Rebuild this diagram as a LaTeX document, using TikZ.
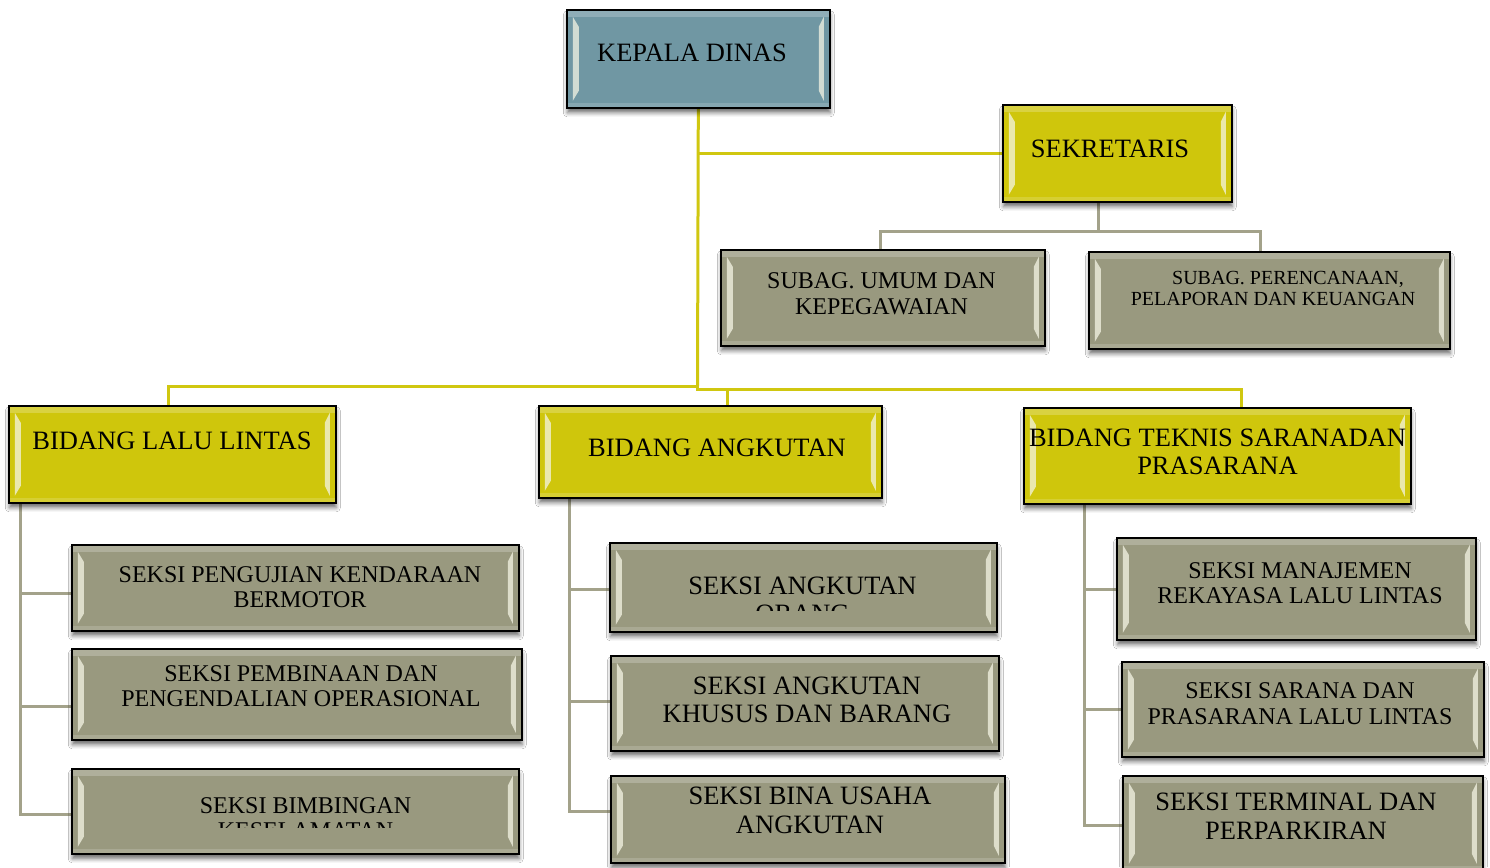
\documentclass[tikz,border=0pt]{standalone}
\usepackage{fontspec}
\setmainfont{Liberation Serif}
\usetikzlibrary{shadows.blur}
\pgfdeclarelayer{bg}
\pgfsetlayers{bg,main}
\definecolor{kblue}{HTML}{7097A3}
\definecolor{kyel}{HTML}{CFC60C}
\definecolor{kgry}{HTML}{99997F}
\definecolor{lyel}{HTML}{D0C710}
\definecolor{lgry}{HTML}{A3A28A}
\definecolor{bevl}{HTML}{F4F4E4}
\tikzset{
 bevel/.style={path picture={
   \path (path picture bounding box.north west) coordinate (ppnw)
         (path picture bounding box.north east) coordinate (ppne)
         (path picture bounding box.south west) coordinate (ppsw)
         (path picture bounding box.south east) coordinate (ppse);
   \fill[white,opacity=.22] (ppnw) rectangle ([yshift=-7pt]ppne);
   \fill[white,opacity=.16] (ppsw) rectangle ([yshift=5pt]ppse);
   \fill[bevl,opacity=.75] ([shift={(6pt,-7pt)}]ppnw) -- ([shift={(12pt,-17pt)}]ppnw)
        -- ([shift={(12pt,17pt)}]ppsw) -- ([shift={(6pt,7pt)}]ppsw) -- cycle;
   \fill[bevl,opacity=.75] ([shift={(-6pt,-7pt)}]ppne) -- ([shift={(-11pt,-17pt)}]ppne)
        -- ([shift={(-11pt,17pt)}]ppse) -- ([shift={(-6pt,7pt)}]ppse) -- cycle;
 }},
 box/.style={draw=black, line width=1.6pt, rectangle, anchor=north west, inner sep=0pt, bevel,
   blur shadow={shadow xshift=0.5pt, shadow yshift=-5pt, shadow blur radius=4pt, shadow opacity=55}},
 bluebox/.style={box, fill=kblue},
 yelbox/.style={box, fill=kyel},
 grybox/.style={box, fill=kgry},
 lbl/.style={align=center, inner sep=0pt, text=black},
 big/.style={lbl, font=\fontsize{26.5}{28}\selectfont},
 bigw/.style={lbl, font=\fontsize{26.5}{29}\selectfont},
 mid/.style={lbl, font=\fontsize{24}{25}\selectfont},
 midw/.style={lbl, font=\fontsize{24}{26}\selectfont},
 small/.style={lbl, font=\fontsize{20}{21}\selectfont},
 yline/.style={draw=lyel, line width=3pt},
 gline/.style={draw=lgry, line width=3pt},
}
\newcommand\mybox[6]{\node[#1, minimum width=#4pt, minimum height=#5pt] (#6) at (#2,#3) {};}
\begin{document}
\begin{tikzpicture}[x=1pt,y=-1pt]
\useasboundingbox (0,0) rectangle (1490,867);
% --- boxes ---
\mybox{bluebox}{566}{9}{263}{98}{kd}
\mybox{yelbox}{1002}{104}{229}{97}{sek}
\mybox{grybox}{720}{249}{324}{96}{sub1}
\mybox{grybox}{1088}{251}{361}{97}{sub2}
\mybox{yelbox}{8}{405}{327}{97}{bl}
\mybox{yelbox}{538}{405}{343}{92}{ba}
\mybox{yelbox}{1023}{407}{387}{96}{bt}
\mybox{grybox}{71}{544}{447}{86}{l1}
\mybox{grybox}{71}{648}{450}{91}{l2}
\mybox{grybox}{71}{768}{447}{85}{l3}
\mybox{grybox}{609}{542}{387}{89}{a1}
\mybox{grybox}{610}{655}{388}{95}{a2}
\mybox{grybox}{610}{775}{394}{87}{a3}
\mybox{grybox}{1116}{537}{359}{102}{t1}
\mybox{grybox}{1121}{661}{362}{95}{t2}
\mybox{grybox}{1122}{775}{360}{95}{t3}
% --- junctions ---
\coordinate (jl) at (697.5,386);
\coordinate (jr) at (697.5,389);
\coordinate (js) at (1098,231);
\coordinate (vl) at (20,502);
\coordinate (va) at (569,497);
\coordinate (vt) at (1084,503);
% --- connectors (behind boxes) ---
\begin{pgfonlayer}{bg}
\fill[white] (0,0) rectangle (1490,867);
\draw[yline] (kd.south) -- (jl);
\draw[yline] (kd.south |- sek.west) -- (sek.west);
\draw[yline] (jl) -| ([xshift=-3.5pt]bl.north);
\draw[yline] (jl) -- (jr) -| ([xshift=17.5pt]ba.north);
\draw[yline] (jr) -| ([xshift=24.5pt]bt.north);
\draw[gline] (sek.south -| js) -- (js) -| ([xshift=-2pt]sub1.north);
\draw[gline] (js) -| ([xshift=-8.5pt]sub2.north);
\draw[gline] (vl) |- ([yshift=-3.5pt]l3.west);
\draw[gline] (vl |- l1.west) ++(0,6) -- ([yshift=-6pt]l1.west);
\draw[gline] (vl |- l2.west) ++(0,12.5) -- ([yshift=-12.5pt]l2.west);
\draw[gline] (va) |- ([yshift=7.5pt]a3.west);
\draw[gline] (va |- a1.west) ++(0,2.5) -- ([yshift=-2.5pt]a1.west);
\draw[gline] (va |- a2.west) ++(0,-1.5) -- ([yshift=1.5pt]a2.west);
\draw[gline] (vt) |- ([yshift=-2.5pt]t3.west);
\draw[gline] (vt |- t1.west) ++(0,1) -- ([yshift=-1pt]t1.west);
\draw[gline] (vt |- t2.west) ++(0,0.5) -- ([yshift=-0.5pt]t2.west);
\end{pgfonlayer}
% --- labels ---
\node[big] (kd-t) at (692,53) {KEPALA DINAS};
\node[big] (sek-t) at (1110,149) {SEKRETARIS};
\node[midw] (sub1-t) at (881.5,294) {SUBAG. UMUM DAN\\KEPEGAWAIAN};
\node[small] (sub2-t) at (1273,288.5) {\hspace*{30pt}SUBAG. PERENCANAAN,\\PELAPORAN DAN KEUANGAN};
\node[big] (bl-t) at (172,441) {BIDANG LALU LINTAS};
\node[big] (ba-t) at (717,448) {BIDANG ANGKUTAN};
\node[big] (bt-t) at (1217.5,452) {BIDANG TEKNIS SARANADAN\\PRASARANA};
\node[mid] (l1-t) at (300,587.5) {SEKSI PENGUJIAN KENDARAAN\\BERMOTOR};
\node[mid] (l2-t) at (301,686.5) {SEKSI PEMBINAAN DAN\\PENGENDALIAN OPERASIONAL};
\begin{scope}
\clip (l3.north west) rectangle ([yshift=-59pt]l3.north east);
\node[mid] (l3-t) at (305.5,818.5) {SEKSI BIMBINGAN\\KESELAMATAN};
\end{scope}
\begin{scope}
\clip (a1.north west) rectangle ([yshift=-68pt]a1.north east);
\node[big] (a1-t) at (802.5,600) {SEKSI ANGKUTAN\\ORANG};
\end{scope}
\node[big] (a2-t) at (807,700) {SEKSI ANGKUTAN\\KHUSUS DAN BARANG};
\node[bigw] (a3-t) at (810,810.5) {SEKSI BINA USAHA\\ANGKUTAN};
\node[mid] (t1-t) at (1300,583.5) {SEKSI MANAJEMEN\\REKAYASA LALU LINTAS};
\node[midw] (t2-t) at (1300,704) {SEKSI SARANA DAN\\PRASARANA LALU LINTAS};
\node[bigw] (t3-t) at (1296,816.5) {SEKSI TERMINAL DAN\\PERPARKIRAN};
\end{tikzpicture}
\end{document}
